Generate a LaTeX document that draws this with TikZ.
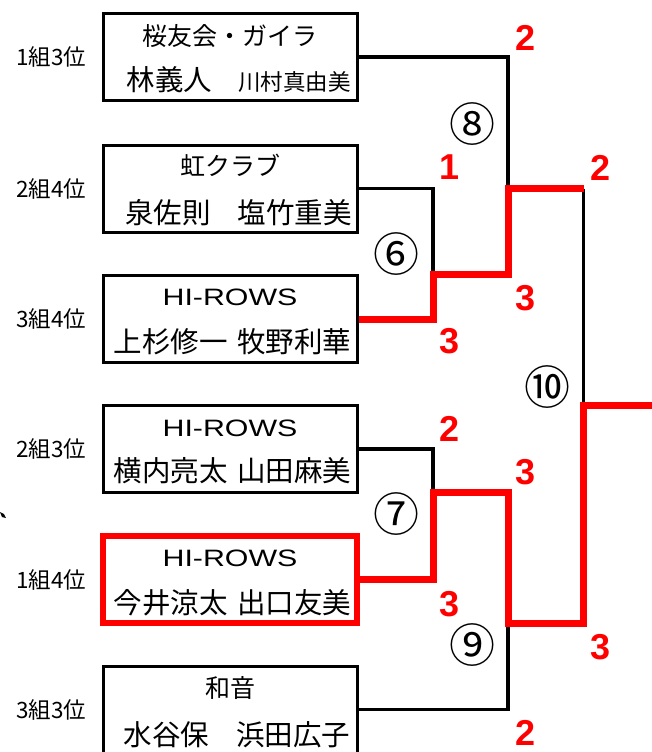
\documentclass[tikz,border=0pt]{standalone}
\usepackage{fontspec}
\setmainfont{Noto Sans CJK JP}
\newfontfamily\numfont{Liberation Sans}
\newcommand{\hirows}{\scalebox{1.28}[1]{\numfont HI-ROWS}}
\usetikzlibrary{calc}
\begin{document}
\begin{tikzpicture}[x=1pt,y=-1pt,
  box/.style={draw=black,line width=3pt,minimum width=254pt,minimum height=87pt,inner sep=0pt},
  winbox/.style={box,draw=red,line width=6.5pt},
  ttl/.style={inner sep=0pt,font=\fontsize{25}{25}\selectfont},
  lat/.style={inner sep=0pt,font=\fontsize{23.7}{24}\selectfont},
  nm/.style={inner sep=0pt,font=\fontsize{28.5}{29}\selectfont},
  seed/.style={inner sep=0pt,font=\fontsize{22.5}{23}\selectfont},
  score/.style={inner sep=0pt,text=red,font=\numfont\bfseries\fontsize{36}{36}\selectfont},
  mno/.style={inner sep=0pt,font=\fontsize{46}{46}\selectfont},
  ln/.style={draw=black,line width=3.5pt,line join=miter},
  win/.style={draw=red,line width=7pt,line join=miter},
]
\useasboundingbox (0,0) rectangle (652,752);

% boxes
\node[box] (b1) at (230,57) {};
\node[box] (b2) at (230,188.5) {};
\node[box] (b3) at (230,319) {};
\node[box] (b4) at (230,449) {};
\node[winbox] (b5) at (230,579.5) {};
\node[box] (b6) at (230,709.5) {};

% box texts
\node[ttl] (b1t) at ($(b1.center)+(0,-21)$) {桜友会・ガイラ};
\node[nm] (b1n) at ($(b1.center)+(8.5,23)$) {林義人\hspace{26pt}{\fontsize{22.5}{23}\selectfont 川村真由美}};
\node[ttl] (b2t) at ($(b2.center)+(0,-23)$) {虹クラブ};
\node[nm] (b2n) at ($(b2.center)+(8.5,24)$) {泉佐則\hspace{27pt}塩竹重美};
\node[lat] (b3t) at ($(b3.center)+(0,-22)$) {\hirows};
\node[nm] (b3n) at ($(b3.center)+(2.5,23)$) {上杉修一\hspace{10pt}牧野利華};
\node[lat] (b4t) at ($(b4.center)+(0,-21)$) {\hirows};
\node[nm] (b4n) at ($(b4.center)+(2.5,22)$) {横内亮太\hspace{10pt}山田麻美};
\node[lat] (b5t) at ($(b5.center)+(0,-21)$) {\hirows};
\node[nm] (b5n) at ($(b5.center)+(2.5,23)$) {今井涼太\hspace{10pt}出口友美};
\node[ttl] (b6t) at ($(b6.center)+(0,-21)$) {和音};
\node[nm] (b6n) at ($(b6.center)+(7,25)$) {水谷保\hspace{27pt}浜田広子};

% seeds
\node[seed] (s1) at (51,57) {1組3位};
\node[seed] (s2) at (51,188.5) {2組4位};
\node[seed] (s3) at (51,319) {3組4位};
\node[seed] (s4) at (51,449) {2組3位};
\node[seed] (s5) at (51,579.5) {1組4位};
\node[seed] (s6) at (51,709.5) {3組3位};

% junctions
\coordinate (w6) at (433,274);
\coordinate (w8) at (508,188.5);
\coordinate (w7) at (433,492.5);
\coordinate (w9) at (508,623);
\coordinate (w10) at (583.5,405);
\coordinate (fin) at (652,405);

% black lines
\draw[ln] (b1.east) -| (w8);
\draw[ln] (b2.east) -| (w6);
\draw[ln] (w8 -| w10) -- (w10);
\draw[ln] (b4.east) -| (w7);
\draw[ln] (b6.east) -| (w9);

% red winning lines
\draw[win] (b3.east) -| (w6) -| (w8) -- (w8 -| w10);
\draw[win] (b5.east) -| (w7) -| (w9) -| (w10) -- (fin);

% match numbers
\node[mno] (m8) at (472,124) {⑧};
\node[mno] (m6) at (396,254) {⑥};
\node[mno] (m10) at (547,387) {⑩};
\node[mno] (m7) at (396,514) {⑦};
\node[mno] (m9) at (472,645) {⑨};

% scores
\node[score] (c1) at (526,38) {2};
\node[score] (c2) at (450,167) {1};
\node[score] (c3) at (601,168) {2};
\node[score] (c4) at (526,298) {3};
\node[score] (c5) at (450,341) {3};
\node[score] (c6) at (450,429) {2};
\node[score] (c7) at (526,472) {3};
\node[score] (c8) at (450,604) {3};
\node[score] (c9) at (601,647) {3};
\node[score] (c10) at (526,733) {2};

% stray mark
\fill (0,512) -- (4,514) -- (6,518) -- (2,517) -- cycle;
\end{tikzpicture}
\end{document}
